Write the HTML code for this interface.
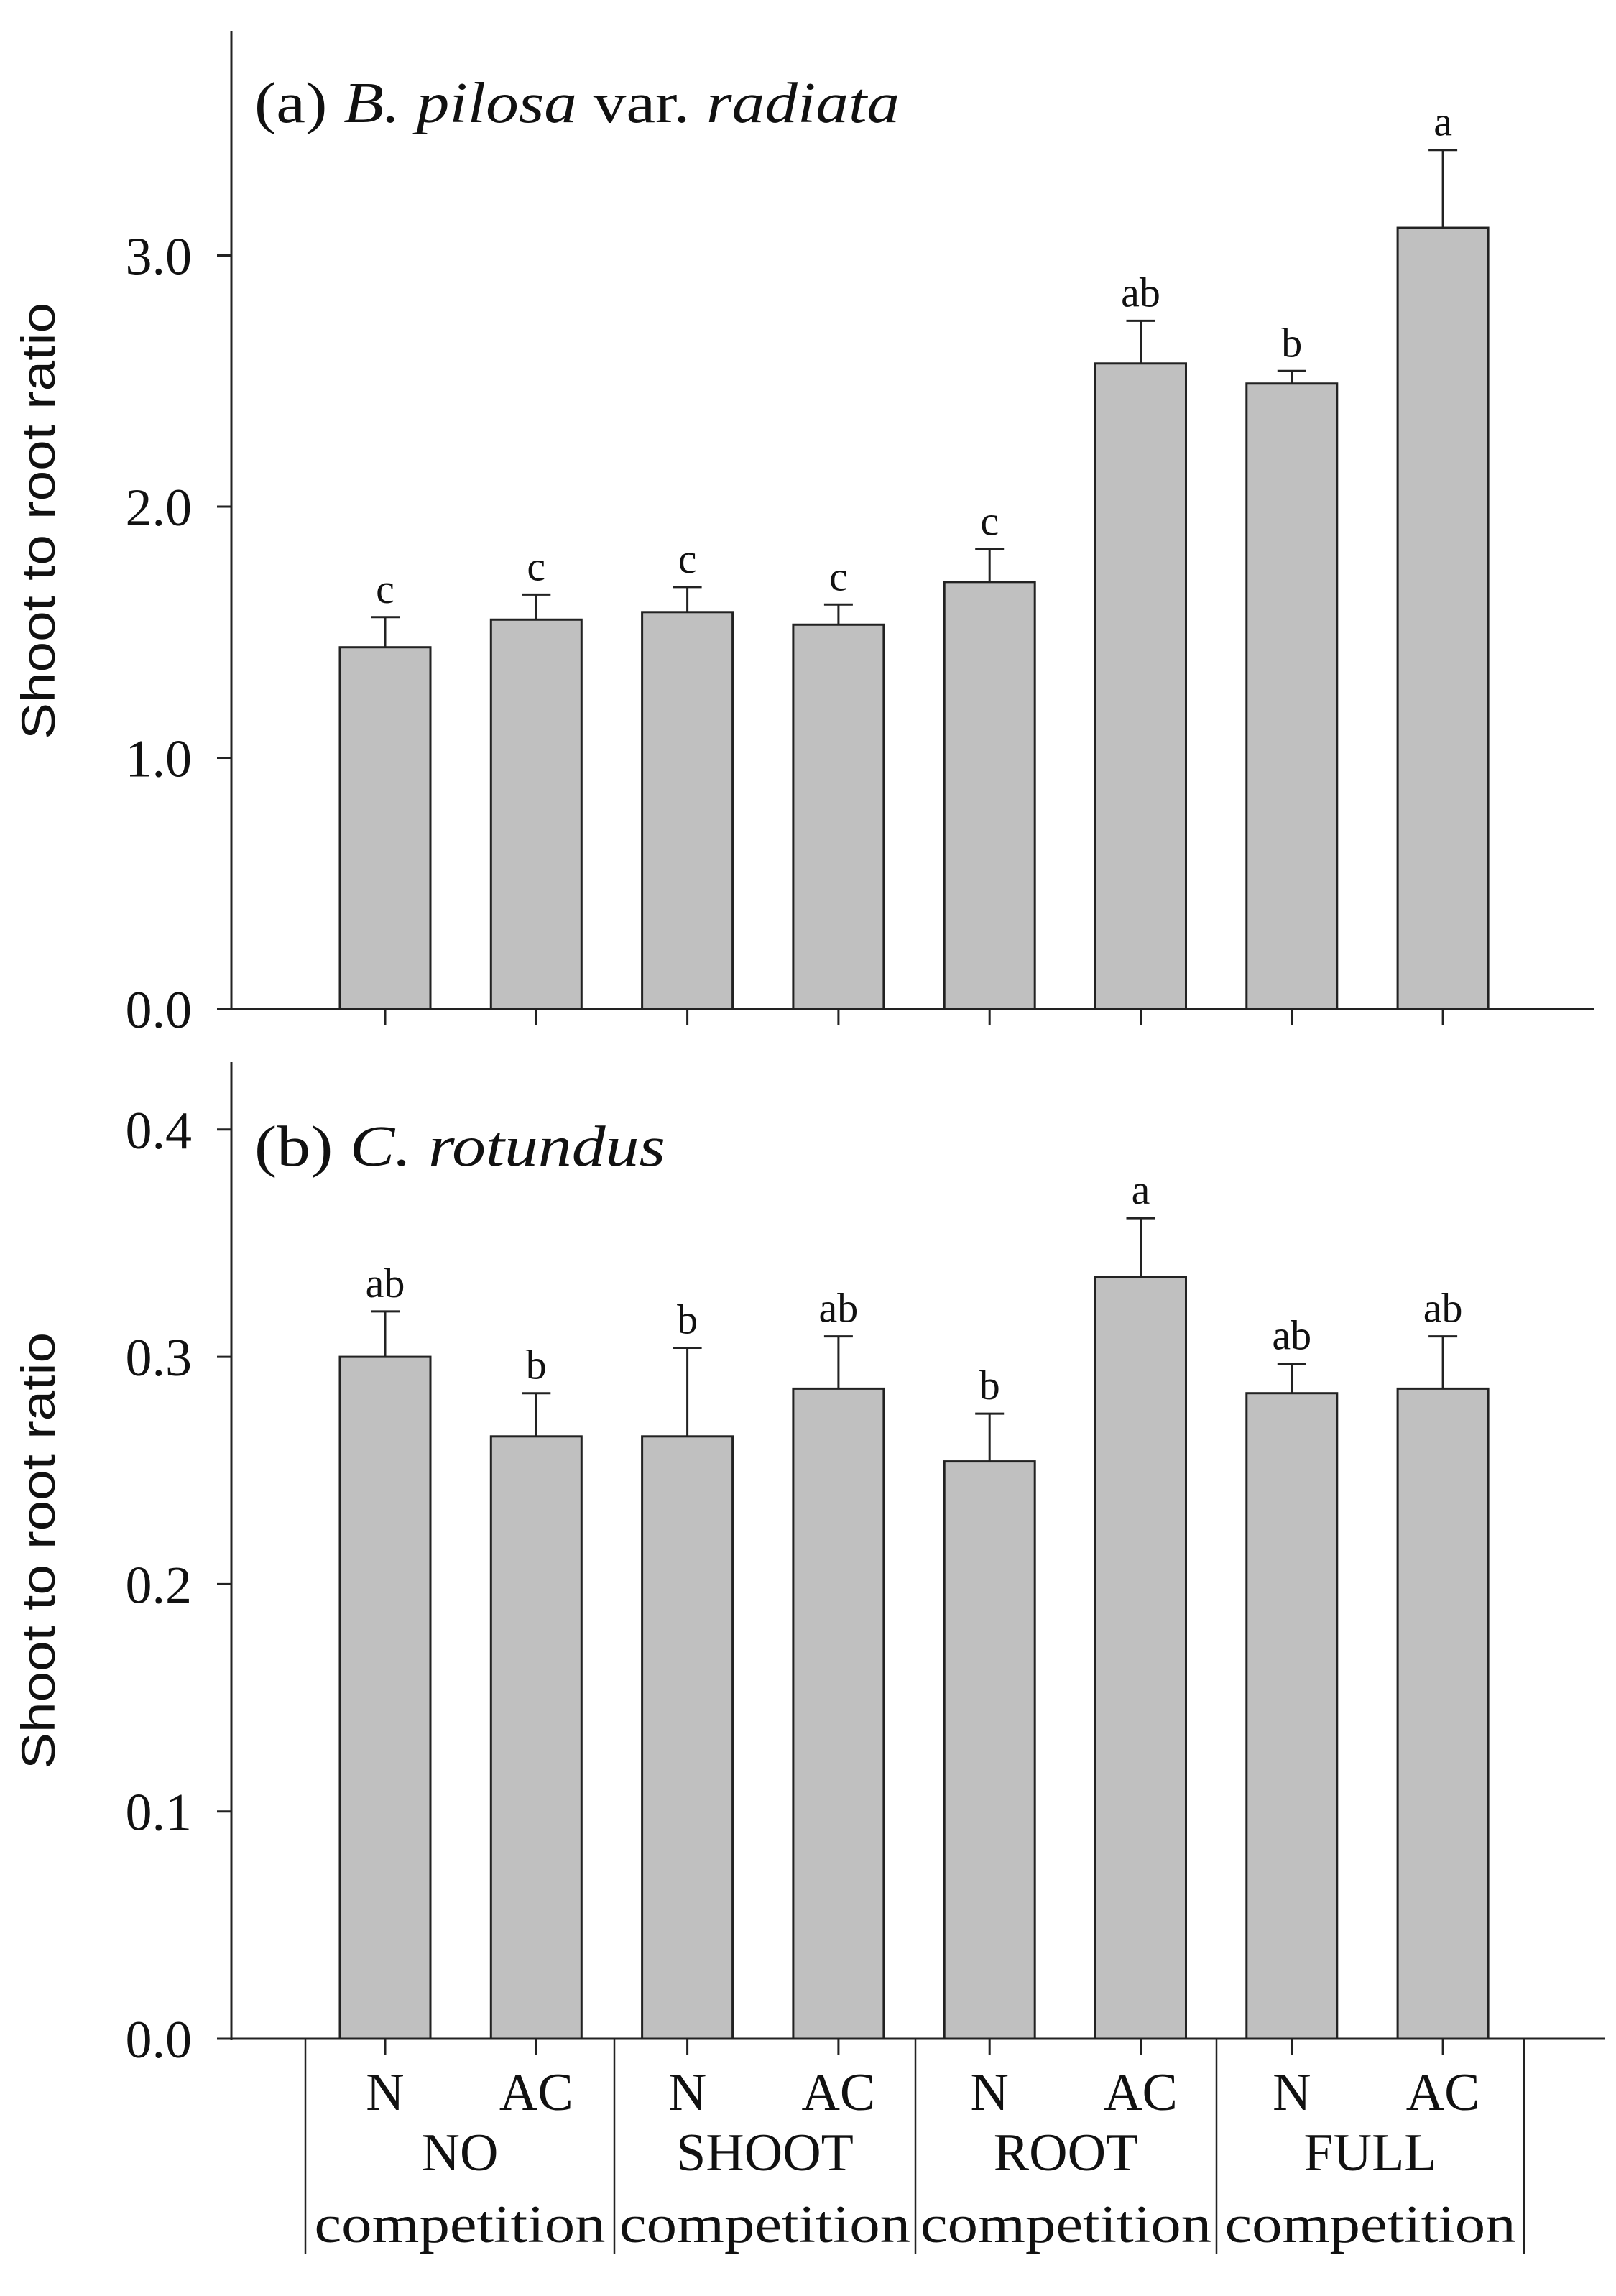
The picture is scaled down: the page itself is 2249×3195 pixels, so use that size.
<!DOCTYPE html>
<html><head><meta charset="utf-8"><style>
html,body{margin:0;padding:0;background:#fff;}
svg{display:block;}
text{font-family:"Liberation Serif",serif;fill:#111;}
</style></head><body>
<svg id="chart" width="2249" height="3195" viewBox="0 0 2249 3195" xmlns="http://www.w3.org/2000/svg">
<g id="pa"></g>
<g id="pb"></g>
<g id="xl"></g>
</svg>
<script>
const categories = ["NO-N","NO-AC","SHOOT-N","SHOOT-AC","ROOT-N","ROOT-AC","FULL-N","FULL-AC"];
const aValues = [1.44,1.55,1.58,1.53,1.70,2.57,2.49,3.11];
const aErrTop = [1.56,1.65,1.68,1.61,1.83,2.74,2.54,3.42];
const aLetters = ["c","c","c","c","c","ab","b","a"];
const aTicks = [0,1,2,3];
const aTickLabels = ["0.0","1.0","2.0","3.0"];
const bValues = [0.300,0.265,0.265,0.286,0.254,0.335,0.284,0.286];
const bErrTop = [0.320,0.284,0.304,0.309,0.275,0.361,0.297,0.309];
const bLetters = ["ab","b","b","ab","b","a","ab","ab"];
const bTicks = [0,0.1,0.2,0.3,0.4];
const bTickLabels = ["0.0","0.1","0.2","0.3","0.4"];
const treatLabels = ["N","AC","N","AC","N","AC","N","AC"];
const groupTop = ["NO","SHOOT","ROOT","FULL"];

const NS="http://www.w3.org/2000/svg";
function mk(tag,parent,attrs){const e=document.createElementNS(NS,tag);for(const k in attrs)e.setAttribute(k,attrs[k]);parent.appendChild(e);return e;}
const AX=322, BW=126;
function xc(i){return 536+i*210.3;}

function panel(g,y0,pxPerUnit,axTop,vals,errs,letters,ticks,tlabels,axRight){
  const y=v=>y0-v*pxPerUnit;
  const l=mk('line',g,{x1:AX,y1:axTop,x2:AX,y2:y0+2,stroke:'#222','stroke-width':3});
  
  
  const xa=mk('line',g,{x1:AX-20,y1:y0,x2:axRight,y2:y0,stroke:'#222','stroke-width':3});
  
  
  ticks.forEach((t,i)=>{
    const tk=mk('line',g,{x1:AX-20,y1:y(t),x2:AX,y2:y(t),stroke:'#222','stroke-width':3});
    
    
    const tl=mk('text',g,{x:267,y:y(t)+26,'text-anchor':'end','font-size':74});
    tl.textContent=tlabels[i];
    
    
  });
  vals.forEach((v,i)=>{
    const cx=xc(i);
    const b=mk('rect',g,{x:cx-BW/2,y:y(v),width:BW,height:y0-y(v),fill:'#c0c0c0',stroke:'#222','stroke-width':3});
    
    
    const e=mk('path',g,{d:`M${cx},${y(v)} V${y(errs[i])} M${cx-20},${y(errs[i])} H${cx+20}`,stroke:'#222','stroke-width':3,fill:'none'});
    
    
    const t=mk('text',g,{x:cx,y:y(errs[i])-20,'text-anchor':'middle','font-size':58});
    t.textContent=letters[i];
    
    
    const bt=mk('line',g,{x1:cx,y1:y0,x2:cx,y2:y0+22,stroke:'#222','stroke-width':3});
    
    
  });
}
const pa=document.getElementById('pa'), pb=document.getElementById('pb'), xl=document.getElementById('xl');
panel(pa,1404,349.5,43,aValues,aErrTop,aLetters,aTicks,aTickLabels,2219);
panel(pb,2837,3163,1478,bValues,bErrTop,bLetters,bTicks,bTickLabels,2233);

const ta=mk('text',pa,{x:354,y:170,'font-size':80,textLength:898,lengthAdjust:'spacingAndGlyphs'});
ta.innerHTML='(a) <tspan font-style="italic">B. pilosa</tspan> var. <tspan font-style="italic">radiata</tspan>';


const tb=mk('text',pb,{x:354,y:1622,'font-size':80,textLength:572,lengthAdjust:'spacingAndGlyphs'});
tb.innerHTML='(b) <tspan font-style="italic">C. rotundus</tspan>';



[[725,pa],[2158,pb]].forEach(([cy,g])=>{
  const t=mk('text',g,{x:0,y:0,'text-anchor':'middle','font-size':66,textLength:608,lengthAdjust:'spacingAndGlyphs',transform:`translate(76,${cy}) rotate(-90)`,style:'font-family:"Liberation Sans",sans-serif'});
  t.textContent='Shoot to root ratio';
  
  
});

const seps=[425,855,1274,1693,2121];
seps.forEach(sx=>{
  const s=mk('line',xl,{x1:sx,y1:2837,x2:sx,y2:3136,stroke:'#222','stroke-width':2.5});
  
  
});
treatLabels.forEach((lab,i)=>{
  const t=mk('text',xl,{x:xc(i),y:2936,'text-anchor':'middle','font-size':74});
  t.textContent=lab;
  
  
});
groupTop.forEach((lab,i)=>{
  const cx=(seps[i]+seps[i+1])/2;
  const t=mk('text',xl,{x:cx,y:3020,'text-anchor':'middle','font-size':74});
  t.textContent=lab;
  
  
  const c=mk('text',xl,{x:cx,y:3120,'text-anchor':'middle','font-size':74,textLength:405,lengthAdjust:'spacingAndGlyphs'});
  c.textContent='competition';
  
  
});
</script>
</body></html>
